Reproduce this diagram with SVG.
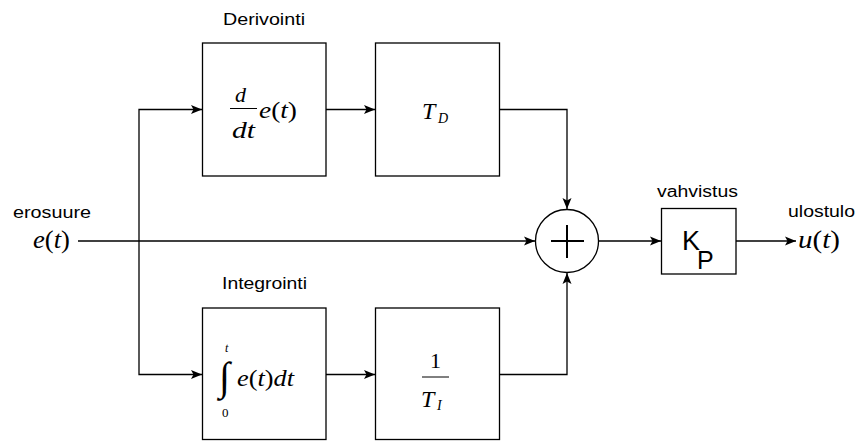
<svg xmlns="http://www.w3.org/2000/svg" width="859" height="441" viewBox="0 0 859 441">
<style>
.box{fill:#fff;stroke:#000;stroke-width:1.3}
.wire{fill:none;stroke:#000;stroke-width:1.3}
.lbl{font-family:"Liberation Sans",Arial,sans-serif;font-size:16px;fill:#000}
.m{font-family:"Liberation Serif","Times New Roman",serif;fill:#000}
.i{font-style:italic}
</style>
<defs>
<marker id="ah" markerUnits="userSpaceOnUse" markerWidth="12" markerHeight="10" refX="11" refY="5" orient="auto">
<path d="M0,0.5 L11,5 L0,9.5 L2.5,5 Z" fill="#000"/>
</marker>
</defs>
<rect width="859" height="441" fill="#fff"/>
<g id="connectors">
<path class="wire" d="M78,241 H535" marker-end="url(#ah)"/>
<path class="wire" d="M139,241 V109.5 H202" marker-end="url(#ah)"/>
<path class="wire" d="M139,241 V374.5 H202" marker-end="url(#ah)"/>
<path class="wire" d="M326,109.5 H375" marker-end="url(#ah)"/>
<path class="wire" d="M326,374.5 H375" marker-end="url(#ah)"/>
<path class="wire" d="M499,109.5 H567 V209" marker-end="url(#ah)"/>
<path class="wire" d="M499,374.5 H567 V273" marker-end="url(#ah)"/>
<path class="wire" d="M599,241 H661" marker-end="url(#ah)"/>
<path class="wire" d="M736,241 H796" marker-end="url(#ah)"/>
</g>
<g id="input">
<text class="lbl" x="13" y="218" textLength="78" lengthAdjust="spacingAndGlyphs">erosuure</text>
<text class="m" x="33" y="248" font-size="25" textLength="37" lengthAdjust="spacingAndGlyphs"><tspan class="i">e</tspan>(<tspan class="i">t</tspan>)</text>
</g>
<g id="derivative">
<text class="lbl" x="223" y="25" textLength="82" lengthAdjust="spacingAndGlyphs">Derivointi</text>
<rect class="box" x="202.5" y="43" width="123.5" height="133"/>
<text class="m i" x="235" y="102" font-size="22">d</text>
<line x1="230" y1="108.5" x2="257" y2="108.5" stroke="#000" stroke-width="1"/>
<text class="m i" x="232" y="138" font-size="23" textLength="23" lengthAdjust="spacingAndGlyphs">dt</text>
<text class="m" x="259" y="118" font-size="24" textLength="38" lengthAdjust="spacingAndGlyphs"><tspan class="i">e</tspan>(<tspan class="i">t</tspan>)</text>
</g>
<g id="td">
<rect class="box" x="375.5" y="43" width="124" height="133"/>
<text class="m i" x="422" y="119" font-size="24">T</text>
<text class="m i" x="438" y="123" font-size="14">D</text>
</g>
<g id="integral">
<text class="lbl" x="222" y="289" textLength="85" lengthAdjust="spacingAndGlyphs">Integrointi</text>
<rect class="box" x="202.5" y="308" width="123.5" height="131.5"/>
<text class="m" x="219" y="390" font-size="40" font-family="'DejaVu Serif',serif">∫</text>
<text class="m i" x="225" y="352" font-size="12">t</text>
<text class="m" x="222" y="417" font-size="13">0</text>
<text class="m" x="237" y="386" font-size="24" textLength="57" lengthAdjust="spacingAndGlyphs"><tspan class="i">e</tspan>(<tspan class="i">t</tspan>)<tspan class="i">dt</tspan></text>
</g>
<g id="ti">
<rect class="box" x="375.5" y="308" width="124" height="131.5"/>
<text class="m" x="430" y="368" font-size="22">1</text>
<line x1="422" y1="377" x2="449" y2="377" stroke="#000" stroke-width="1"/>
<text class="m i" x="421" y="407" font-size="24">T</text>
<text class="m i" x="437" y="410" font-size="14">I</text>
</g>
<g id="sum">
<circle cx="567" cy="241" r="31.5" fill="#fff" stroke="#000" stroke-width="1.3"/>
<line x1="551" y1="241" x2="584" y2="241" stroke="#000" stroke-width="2"/>
<line x1="567" y1="225" x2="567" y2="258" stroke="#000" stroke-width="2"/>
</g>
<g id="gain">
<text class="lbl" x="657" y="197" textLength="81" lengthAdjust="spacingAndGlyphs">vahvistus</text>
<rect class="box" x="661.5" y="208.5" width="74.5" height="65.5"/>
<text class="lbl" x="682" y="250" style="font-size:27px">K</text>
<text class="lbl" x="697" y="269" style="font-size:25px">P</text>
</g>
<g id="output">
<text class="lbl" x="788" y="217" textLength="67" lengthAdjust="spacingAndGlyphs">ulostulo</text>
<text class="m" x="798" y="248" font-size="25" textLength="42" lengthAdjust="spacingAndGlyphs"><tspan class="i">u</tspan>(<tspan class="i">t</tspan>)</text>
</g>
</svg>
